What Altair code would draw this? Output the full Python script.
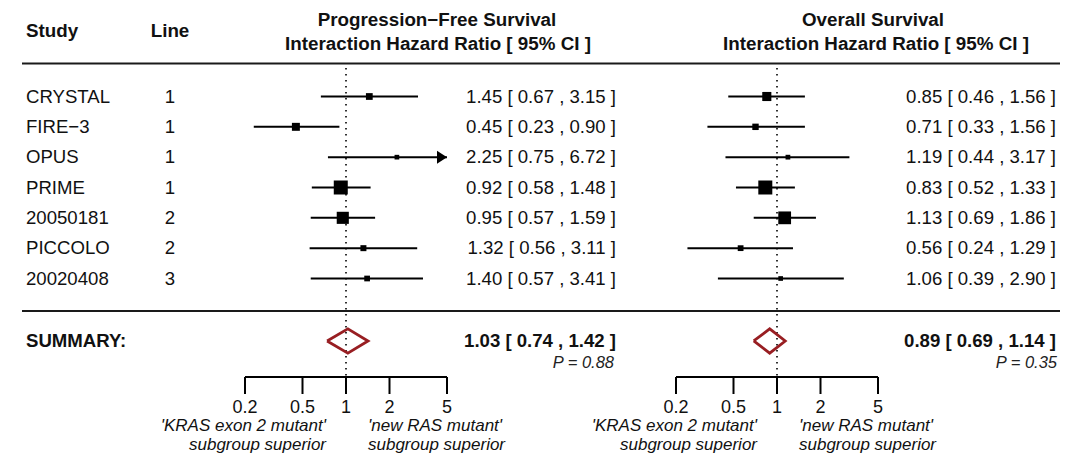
import numpy as np
import pandas as pd
import altair as alt

# ---------------- data ----------------
studies = ["CRYSTAL", "FIRE\u22123", "OPUS", "PRIME", "20050181", "PICCOLO", "20020408"]
lines = [1, 1, 1, 1, 2, 2, 3]
pfs_hr = [1.45, 0.45, 2.25, 0.92, 0.95, 1.32, 1.40]
pfs_lo = [0.67, 0.23, 0.75, 0.58, 0.57, 0.56, 0.57]
pfs_hi = [3.15, 0.90, 6.72, 1.48, 1.59, 3.11, 3.41]
os_hr = [0.85, 0.71, 1.19, 0.83, 1.13, 0.56, 1.06]
os_lo = [0.46, 0.33, 0.44, 0.52, 0.69, 0.24, 0.39]
os_hi = [1.56, 1.56, 3.17, 1.33, 1.86, 1.29, 2.90]
pfs_sum = [1.03, 0.74, 1.42]
os_sum = [0.89, 0.69, 1.14]
pfs_p = "0.88"
os_p = "0.35"
ticks = [0.2, 0.5, 1, 2, 5]
tick_labels = ["0.2", "0.5", "1", "2", "5"]
left_label = ["'KRAS exon 2 mutant'", "subgroup superior"]
right_label = ["'new RAS mutant'", "subgroup superior"]

FONT = "Liberation Sans"
FS = 18.6
XLIM = [0.2, 5]
SUM_ROW = 9.06

yscale = alt.Scale(domain=[1, 7], range=[96.5, 278.5], nice=False, zero=False)


def ci_text(e, l, h):
    return f"{e:.2f} [ {l:.2f} , {h:.2f} ]"


def forest_df(hr, lo, hi):
    hr = np.array(hr); lo = np.array(lo); hi = np.array(hi)
    se = (np.log(hi) - np.log(lo)) / (2 * 1.96)
    w = 1 / se ** 2
    ps = 0.5 + (w - w.min()) / (w.max() - w.min())
    side = 14 * ps / 1.5
    return pd.DataFrame({
        "row": np.arange(1, len(hr) + 1),
        "hr": hr,
        "lo": np.maximum(lo, XLIM[0]),
        "hi": np.minimum(hi, XLIM[1]),
        "arrow": hi > XLIM[1],
        "area": side ** 2,
        "label": [ci_text(e, l, h) for e, l, h in zip(hr, lo, hi)],
    })


def panel(hr, lo, hi, summ, pval, rng, text_right, p_right):
    df = forest_df(hr, lo, hi)
    xs = alt.Scale(type="log", domain=XLIM, range=rng, nice=False)
    X = lambda f: alt.X(f, scale=xs, axis=None)
    Y = lambda f: alt.Y(f, scale=yscale, axis=None)

    ci = alt.Chart(df).mark_rule(color="black", strokeWidth=2).encode(
        x=X("lo:Q"), x2="hi:Q", y=Y("row:Q"))
    sq = alt.Chart(df).mark_square(color="black", opacity=1).encode(
        x=X("hr:Q"), y=Y("row:Q"), size=alt.Size("area:Q", scale=None))
    arr = alt.Chart(df[df["arrow"]]).mark_point(
        shape="M -1 -1.3 L 1 0 L -1 1.3 Z", filled=True, color="black",
        opacity=1, size=100, xOffset=-5).encode(x=X("hi:Q"), y=Y("row:Q"))

    e, l, h = summ
    dd = pd.DataFrame({"x": [l, e, h, e, l],
                       "y": [SUM_ROW, SUM_ROW - 0.4, SUM_ROW, SUM_ROW + 0.4, SUM_ROW],
                       "k": [0, 1, 2, 3, 4]})
    dia = alt.Chart(dd).mark_line(color="#981e22", strokeWidth=2.8, strokeJoin="miter").encode(
        x=X("x:Q"), y=Y("y:Q"), order="k:Q")

    ref = alt.Chart(pd.DataFrame({"v": [1]})).mark_rule(
        color="black", strokeWidth=1.6, strokeDash=[1.6, 4.4]).encode(
        x=X("v:Q"), y=alt.value(68), y2=alt.value(377))

    tdf = pd.DataFrame({"t": ticks, "lab": tick_labels})
    axl = alt.Chart(pd.DataFrame({"a": [XLIM[0]], "b": [XLIM[1]]})).mark_rule(
        color="black", strokeWidth=2).encode(x=X("a:Q"), x2="b:Q", y=alt.value(377))
    axt = alt.Chart(tdf).mark_rule(color="black", strokeWidth=2).encode(
        x=X("t:Q"), y=alt.value(377), y2=alt.value(394))
    axlab = alt.Chart(tdf).mark_text(font=FONT, fontSize=18, color="#111",
                                     baseline="middle").encode(
        x=X("t:Q"), y=alt.value(408), text="lab:N")

    ldf = pd.DataFrame({"v": [1, 1], "t": left_label, "yy": [426, 445]})
    rdf = pd.DataFrame({"v": [1, 1], "t": right_label, "yy": [426, 445]})
    llab = alt.Chart(ldf).mark_text(font=FONT, fontSize=17, fontStyle="italic",
                                    align="right", baseline="middle", dx=-20,
                                    color="#111").encode(
        x=X("v:Q"), y=alt.Y("yy:Q", scale=None, axis=None), text="t:N")
    rlab = alt.Chart(rdf).mark_text(font=FONT, fontSize=17, fontStyle="italic",
                                    align="left", baseline="middle", dx=22,
                                    color="#111").encode(
        x=X("v:Q"), y=alt.Y("yy:Q", scale=None, axis=None), text="t:N")

    vals = alt.Chart(df).mark_text(font=FONT, fontSize=FS, align="right",
                                   baseline="middle", color="#111").encode(
        x=alt.value(text_right), y=Y("row:Q"), text="label:N")
    sdf = pd.DataFrame({"row": [SUM_ROW], "label": [ci_text(e, l, h)],
                        "p": ["P = " + pval]})
    stext = alt.Chart(sdf).mark_text(font=FONT, fontSize=FS, fontWeight="bold",
                                     align="right", baseline="middle", color="#111").encode(
        x=alt.value(text_right), y=Y("row:Q"), text="label:N")
    ptext = alt.Chart(sdf).mark_text(font=FONT, fontSize=16.5, fontStyle="italic",
                                     align="right", baseline="middle", color="#222").encode(
        x=alt.value(p_right), y=alt.value(363), text="p:N")

    return alt.layer(ref, ci, sq, arr, dia, axl, axt, axlab, llab, rlab,
                     vals, stext, ptext)


pfs = panel(pfs_hr, pfs_lo, pfs_hi, pfs_sum, pfs_p, [245, 447], 616, 614)
osp = panel(os_hr, os_lo, os_hi, os_sum, os_p, [676, 878], 1056, 1057)

# left columns
ldf = pd.DataFrame({"row": np.arange(1, len(studies) + 1), "study": studies,
                    "line": [str(v) for v in lines]})
st = alt.Chart(ldf).mark_text(font=FONT, fontSize=FS, align="left",
                              baseline="middle", color="#111").encode(
    x=alt.value(26), y=alt.Y("row:Q", scale=yscale, axis=None), text="study:N")
ln = alt.Chart(ldf).mark_text(font=FONT, fontSize=FS, align="center",
                              baseline="middle", color="#111").encode(
    x=alt.value(170), y=alt.Y("row:Q", scale=yscale, axis=None), text="line:N")
summ = alt.Chart(pd.DataFrame({"row": [SUM_ROW], "t": ["SUMMARY:"]})).mark_text(
    font=FONT, fontSize=FS, fontWeight="bold", align="left", baseline="middle",
    color="#111").encode(x=alt.value(26), y=alt.Y("row:Q", scale=yscale, axis=None),
                         text="t:N")

hdr = pd.DataFrame({
    "t": ["Study", "Line", "Progression\u2212Free Survival",
          "Interaction Hazard Ratio [ 95% CI ]", "Overall Survival",
          "Interaction Hazard Ratio [ 95% CI ]"],
    "x": [26, 170, 437, 438, 873, 876],
    "y": [31, 31, 20, 44, 20, 44],
    "a": ["left", "center", "center", "center", "center", "center"],
})
headers = []
for _, r in hdr.iterrows():
    headers.append(alt.Chart(pd.DataFrame({"t": [r["t"]]})).mark_text(
        font=FONT, fontSize=18.8, fontWeight="bold", align=r["a"], baseline="middle",
        color="#111").encode(x=alt.value(int(r["x"])), y=alt.value(int(r["y"])), text="t:N"))

seps = alt.Chart(pd.DataFrame({"yy": [63.5, 311]})).mark_rule(
    color="#1a1a1a", strokeWidth=2).encode(
    x=alt.value(22), x2=alt.value(1060), y=alt.Y("yy:Q", scale=None, axis=None))

chart = alt.layer(seps, st, ln, summ, *headers, pfs, osp).resolve_scale(
    x="independent").properties(
    width=1068, height=462, padding=0,
    autosize=alt.AutoSizeParams(type="none"),
    background="white").configure_view(stroke=None)

chart.save("out.html", embed_options={"renderer": "svg", "actions": False})
